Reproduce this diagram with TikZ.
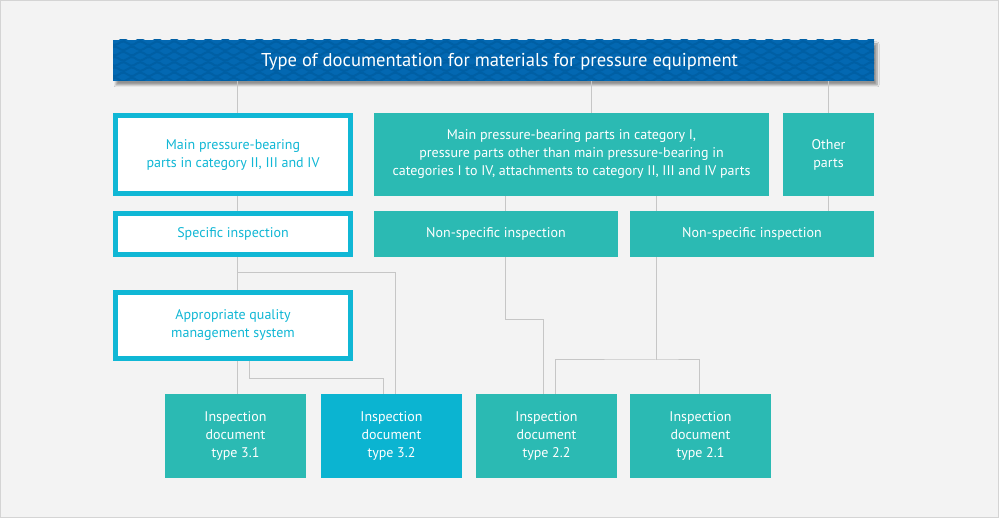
\documentclass[tikz,border=0pt]{standalone}
\usepackage{fontspec}
\setmainfont{PT Sans}
\usetikzlibrary{shadows.blur}
\definecolor{pagebg}{RGB}{243,243,243}
\definecolor{framegray}{RGB}{212,212,212}
\definecolor{titleblue}{RGB}{3,104,178}
\definecolor{waveblue}{RGB}{0,95,164}
\definecolor{teal}{RGB}{43,186,179}
\definecolor{cyanline}{RGB}{16,183,213}
\definecolor{cyanfill}{RGB}{11,180,209}
\definecolor{linkgray}{RGB}{198,198,198}

\begin{document}
\begin{tikzpicture}[x=1pt,y=-1pt,
    link/.style={linkgray, line width=1pt},
    tealbox/.style={fill=teal, text=white, align=center, inner sep=0pt, font=\fontsize{14}{18}\selectfont},
    whitebox/.style={fill=white, draw=cyanline, line width=5pt, text=cyanline, align=center, inner sep=0pt, font=\fontsize{14}{18}\selectfont},
    docbox/.style={tealbox, minimum width=141pt, minimum height=84pt}]
    \useasboundingbox (0,0) rectangle (999,518);
    \draw[framegray, fill=pagebg] (0.5,0.5) rectangle (998.5,517.5);

    % title bar with waves
    \node[fill=titleblue, minimum width=761pt, minimum height=41pt, inner sep=0pt,
          blur shadow={shadow xshift=3pt, shadow yshift=-4pt, shadow blur steps=6}] (title) at (493.5,60.5) {};
    \begin{scope}
        \clip (113,40) rectangle (874,81);
        \foreach \r in {0,...,8}
            \draw[waveblue, line width=2pt] plot[domain=108:880, samples=240, smooth]
                (\x, {38 + 5.2*\r + 1.8*sin(mod(\x + 8.5*\r,17)*360/17)});
    \end{scope}
    \node[text=white, font=\fontsize{18.6}{22}\selectfont, xshift=6pt, yshift=-1pt] at (title) {Type of documentation for materials for pressure equipment};

    % first row
    \node[whitebox, minimum width=235pt, minimum height=78pt] (main) at (233,155) {Main pressure-bearing\\parts in category II, III and IV};
    \node[tealbox, minimum width=395pt, minimum height=83pt] (cat1) at (571.5,154.5) {Main pressure-bearing parts in category I,\\pressure parts other than main pressure-bearing in\\categories I to IV, attachments to category II, III and IV parts};
    \node[tealbox, minimum width=91pt, minimum height=83pt] (other) at (828.5,154.5) {Other\\parts};

    % second row
    \node[whitebox, minimum width=235pt, minimum height=41pt] (spec) at (233,234) {Specific inspection};
    \node[tealbox, minimum width=244pt, minimum height=46pt] (nonspecA) at (496,234) {Non-specific inspection};
    \node[tealbox, minimum width=244pt, minimum height=46pt] (nonspecB) at (752,234) {Non-specific inspection};

    % quality system
    \node[whitebox, minimum width=235pt, minimum height=66pt] (quality) at (233,325.5) {Appropriate quality\\management system};

    % inspection documents
    \node[docbox] (doc31) at (235.5,436) {Inspection\\document\\type 3.1};
    \node[docbox, fill=cyanfill] (doc32) at (391.5,436) {Inspection\\document\\type 3.2};
    \node[docbox] (doc22) at (546.5,436) {Inspection\\document\\type 2.2};
    \node[docbox] (doc21) at (700.5,436) {Inspection\\document\\type 2.1};

    % connector positions
    \coordinate (xa) at (237,0);
    \coordinate (xb) at (591,0);
    \coordinate (xc) at (828,0);
    \coordinate (xe) at (505,0);
    \coordinate (xf) at (656.5,0);
    \coordinate (xq) at (249,0);
    \coordinate (xj) at (555,0);
    \coordinate (xk) at (699,0);
    \coordinate (specsplit) at (237,273);
    \coordinate (qualsplit) at (383,379);
    \coordinate (nonsplit) at (543,320);
    \coordinate (docsplit) at (656.5,360);

    \draw[link] (title.south -| xa) -- (main.north -| xa);
    \draw[link] (main.south -| xa) -- (spec.north -| xa);
    \draw[link] (spec.south -| xa) -- (quality.north -| xa);
    \draw[link] (quality.south -| xa) -- (doc31.north -| xa);
    \draw[link] (title.south -| xb) -- (cat1.north -| xb);
    \draw[link] (title.south -| xc) -- (other.north -| xc);
    \draw[link] (other.south -| xc) -- (nonspecB.north -| xc);
    \draw[link] (cat1.south -| xe) -- (nonspecA.north -| xe);
    \draw[link] (cat1.south -| xf) -- (nonspecB.north -| xf);
    \draw[link] (specsplit) -| ([xshift=3.5pt]doc32.north);
    \draw[link] (quality.south -| xq) |- (qualsplit) -- (doc32.north -| qualsplit);
    \draw[link] (nonspecA.south -| xe) |- (nonsplit) -- (doc22.north -| nonsplit);
    \draw[link] (nonspecB.south -| xf) -- (docsplit);
    \draw[link] (doc22.north -| xj) |- (docsplit) -| (doc21.north -| xk);
\end{tikzpicture}
\end{document}
